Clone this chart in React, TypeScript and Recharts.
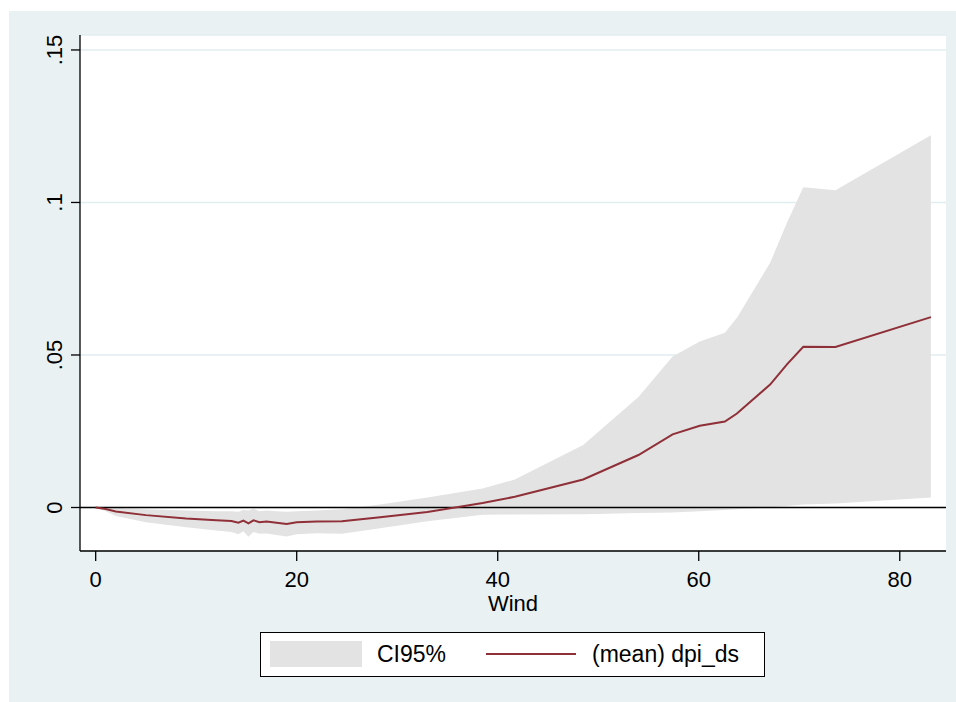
import {
  Area,
  CartesianGrid,
  ComposedChart,
  Line,
  ReferenceLine,
  XAxis,
  YAxis,
} from "recharts";

// wind speed, estimated mean and 95% CI bounds
const wind = [
  0, 1, 2, 5, 9, 12, 13.5, 14.2, 14.7, 15.2, 15.7, 16.3, 17, 18, 19, 20, 22,
  24.5, 28.3, 33, 38.5, 41.7, 48.5, 54.0, 57.4, 60.1, 62.6, 63.8, 67.1, 68.8,
  70.4, 73.6, 83.1,
];
const meanDpi = [
  0, -0.0005, -0.0013, -0.0025, -0.0036, -0.0042, -0.0044, -0.005, -0.0043,
  -0.0052, -0.0042, -0.0048, -0.0046, -0.005, -0.0054, -0.0048, -0.0046,
  -0.0045, -0.0032, -0.0015, 0.0015, 0.0035, 0.0092, 0.0172, 0.024, 0.0268,
  0.0282, 0.0308, 0.0403, 0.047, 0.0527, 0.0526, 0.0624,
];
const ciLow = [
  0, -0.0012, -0.0028, -0.0048, -0.0065, -0.0075, -0.008, -0.0088, -0.0078,
  -0.0096, -0.008, -0.0086, -0.0085, -0.009, -0.0095, -0.0088, -0.0084,
  -0.0086, -0.0068, -0.0045, -0.0024, -0.0023, -0.0022, -0.0018, -0.0016,
  -0.0012, -0.0008, -0.0006, 0.0, 0.0005, 0.001, 0.0013, 0.0033,
];
const ciHigh = [
  0, 0.0001, -0.0001, -0.0006, -0.001, -0.0012, -0.0012, -0.0014, -0.0008,
  -0.001, -0.0004, -0.0012, -0.001, -0.0012, -0.0014, -0.0012, -0.001,
  -0.0006, 0.001, 0.0033, 0.0062, 0.0092, 0.0205, 0.0362, 0.0495, 0.0544,
  0.0573, 0.0622, 0.0802, 0.0935, 0.105, 0.104, 0.122,
];
const xTicks = [0, 20, 40, 60, 80];
const yTicks = [0, 0.05, 0.1, 0.15];
const yLabels = ["0", ".05", ".1", ".15"];

const data = wind.map((w, i) => ({
  wind: w,
  mean: meanDpi[i],
  ci: [ciLow[i], ciHigh[i]],
}));

const FONT = "'Liberation Sans', Arial, Helvetica, sans-serif";
const PANEL = "#e9f1f3";
const BAND = "#e3e3e3";
const RED = "#8f2f37";

const YTick = ({ y, payload }: any) => {
  const idx = yTicks.indexOf(payload.value);
  return (
    <text
      transform={`translate(62,${y}) rotate(-90)`}
      textAnchor="middle"
      fontSize={22}
      fontFamily={FONT}
      fill="#000"
    >
      {idx >= 0 ? yLabels[idx] : payload.value}
    </text>
  );
};

const XTick = ({ x, payload }: any) => (
  <text
    x={x}
    y={587}
    textAnchor="middle"
    fontSize={22}
    fontFamily={FONT}
    fill="#000"
  >
    {payload.value}
  </text>
);

export default function App() {
  return (
    <div
      style={{
        position: "absolute",
        left: 0,
        top: 0,
        width: 956,
        height: 702,
        background: "#fff",
        fontFamily: FONT,
        overflow: "hidden",
      }}
    >
      <div
        style={{
          position: "absolute",
          left: 9,
          top: 11,
          width: 947,
          height: 691,
          background: PANEL,
        }}
      />
      <div
        style={{
          position: "absolute",
          left: 80,
          top: 35,
          width: 866,
          height: 516,
          background: "#fff",
        }}
      />
      <div style={{ position: "absolute", left: 0, top: 0 }}>
        <ComposedChart
          width={956}
          height={702}
          data={data}
          margin={{ top: 35, right: 10, bottom: 91, left: 0 }}
        >
          <CartesianGrid vertical={false} stroke="#e2edf0" strokeWidth={1.5} />
          <XAxis
            dataKey="wind"
            type="number"
            domain={[-1.56, 84.6]}
            allowDataOverflow
            ticks={xTicks}
            height={60}
            tickSize={10}
            axisLine={{ stroke: "#000", strokeWidth: 1.3 }}
            tickLine={{ stroke: "#000", strokeWidth: 1.3 }}
            tick={<XTick />}
          />
          <YAxis
            type="number"
            domain={[-0.01426, 0.1549]}
            allowDataOverflow
            ticks={yTicks}
            width={80}
            tickSize={9}
            axisLine={{ stroke: "#000", strokeWidth: 1.3 }}
            tickLine={{ stroke: "#000", strokeWidth: 1.3 }}
            tick={<YTick />}
          />
          <Area
            type="linear"
            dataKey="ci"
            fill={BAND}
            fillOpacity={1}
            stroke="none"
            isAnimationActive={false}
          />
          <ReferenceLine y={0} stroke="#000" strokeWidth={1.3} />
          <Line
            type="linear"
            dataKey="mean"
            stroke={RED}
            strokeWidth={2}
            dot={false}
            isAnimationActive={false}
          />
        </ComposedChart>
      </div>
      <div
        style={{
          position: "absolute",
          left: 0,
          width: 1026,
          top: 591,
          textAlign: "center",
          fontSize: 22,
          lineHeight: "26px",
          color: "#000",
        }}
      >
        Wind
      </div>
      <div
        style={{
          position: "absolute",
          left: 260,
          top: 632,
          width: 503,
          height: 43,
          border: "1px solid #000",
          background: "#fff",
          fontSize: 23,
          color: "#000",
        }}
      >
        <div
          style={{
            position: "absolute",
            left: 9,
            top: 8,
            width: 92,
            height: 26,
            background: BAND,
          }}
        />
        <div style={{ position: "absolute", left: 116, top: 7, lineHeight: "28px" }}>
          CI95%
        </div>
        <div
          style={{
            position: "absolute",
            left: 225,
            top: 20,
            width: 90,
            height: 2,
            background: RED,
          }}
        />
        <div style={{ position: "absolute", left: 331, top: 7, lineHeight: "28px" }}>
          (mean) dpi_ds
        </div>
      </div>
    </div>
  );
}
